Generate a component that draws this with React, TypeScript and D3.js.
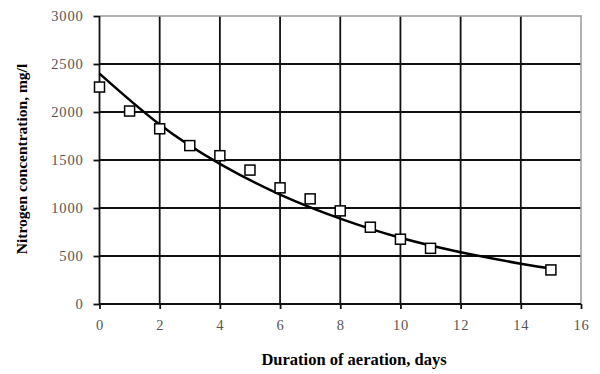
import { useRef, useEffect } from "react";
import * as d3 from "d3";

const days = [0, 1, 2, 3, 4, 5, 6, 7, 8, 9, 10, 11, 15];
const nitrogen = [2260, 2010, 1825, 1650, 1545, 1395, 1210, 1095, 970, 800, 675, 580, 355];
// trend line
const trendDays = [0, 2, 4, 6, 8, 10, 12, 14, 15];
const trendValues = [2400, 1870, 1460, 1140, 890, 690, 540, 420, 370];
const xTicks = [0, 2, 4, 6, 8, 10, 12, 14, 16];
const yTicks = [0, 500, 1000, 1500, 2000, 2500, 3000];

export default function App() {
  const svgRef = useRef<SVGSVGElement>(null);

  useEffect(() => {
    document.body.style.margin = "0";
    if (!svgRef.current) return;
    const svg = d3.select(svgRef.current);
    svg.selectAll("*").remove();

    const left = 99.5;
    const right = 581;
    const top = 16;
    const bottom = 304;
    const x = d3.scaleLinear().domain([0, 16]).range([left, right]);
    const y = d3.scaleLinear().domain([0, 3000]).range([bottom, top]);
    const dark = "#111";
    const serif = "'Liberation Serif', 'Times New Roman', serif";

    // grid
    svg
      .append("g")
      .selectAll("line")
      .data(xTicks.slice(1, -1))
      .enter()
      .append("line")
      .attr("x1", (d) => x(d))
      .attr("x2", (d) => x(d))
      .attr("y1", top)
      .attr("y2", bottom)
      .attr("stroke", dark)
      .attr("stroke-width", 1.8);
    svg
      .append("g")
      .selectAll("line")
      .data(yTicks.slice(1, -1))
      .enter()
      .append("line")
      .attr("x1", left)
      .attr("x2", right)
      .attr("y1", (d) => y(d))
      .attr("y2", (d) => y(d))
      .attr("stroke", dark)
      .attr("stroke-width", 1.8);

    // top and right frame (lighter)
    svg
      .append("path")
      .attr("d", `M${left},${top}H${right}V${bottom}`)
      .attr("fill", "none")
      .attr("stroke", "#999")
      .attr("stroke-width", 1.5);

    // axes
    const xAxis = svg
      .append("g")
      .attr("transform", `translate(0,${bottom})`)
      .call(d3.axisBottom(x).tickValues(xTicks).tickFormat(d3.format("d")).tickSize(5).tickPadding(11));
    const yAxis = svg
      .append("g")
      .attr("transform", `translate(${left},0)`)
      .call(d3.axisLeft(y).tickValues(yTicks).tickFormat(d3.format("d")).tickSize(6).tickPadding(10));
    [xAxis, yAxis].forEach((g) => {
      g.attr("font-family", serif).attr("font-size", 14.5);
      g.select(".domain").attr("stroke", dark).attr("stroke-width", 1.8);
      g.selectAll(".tick line").attr("stroke", dark).attr("stroke-width", 1.8);
      g.selectAll(".tick text")
        .attr("fill", "#555")
        .attr("font-family", serif)
        .attr("letter-spacing", 0.8);
    });
    xAxis.select(".domain").attr("d", `M${left},0H${right}`);
    yAxis.select(".domain").attr("d", `M0,${bottom}V${top}`);

    // trend line
    const line = d3
      .line<number>()
      .x((_, i) => x(trendDays[i]))
      .y((d) => y(d))
      .curve(d3.curveNatural);
    svg
      .append("path")
      .datum(trendValues)
      .attr("d", line)
      .attr("fill", "none")
      .attr("stroke", "#000")
      .attr("stroke-width", 2.5);

    // markers
    const s = 10;
    svg
      .append("g")
      .selectAll("rect")
      .data(nitrogen)
      .enter()
      .append("rect")
      .attr("x", (_, i) => x(days[i]) - s / 2)
      .attr("y", (d) => y(d) - s / 2)
      .attr("width", s)
      .attr("height", s)
      .attr("fill", "#fff")
      .attr("stroke", "#000")
      .attr("stroke-width", 1.5);

    // titles
    svg
      .append("text")
      .attr("x", 354)
      .attr("y", 365)
      .attr("text-anchor", "middle")
      .attr("font-family", serif)
      .attr("font-weight", "bold")
      .attr("font-size", 16.5)
      .text("Duration of aeration, days");
    svg
      .append("text")
      .attr("transform", "translate(27,159) rotate(-90)")
      .attr("text-anchor", "middle")
      .attr("font-family", serif)
      .attr("font-weight", "bold")
      .attr("font-size", 15.5)
      .text("Nitrogen concentration, mg/l");
  }, []);

  return <svg ref={svgRef} width={600} height={374} style={{ display: "block", background: "#fff" }} />;
}
